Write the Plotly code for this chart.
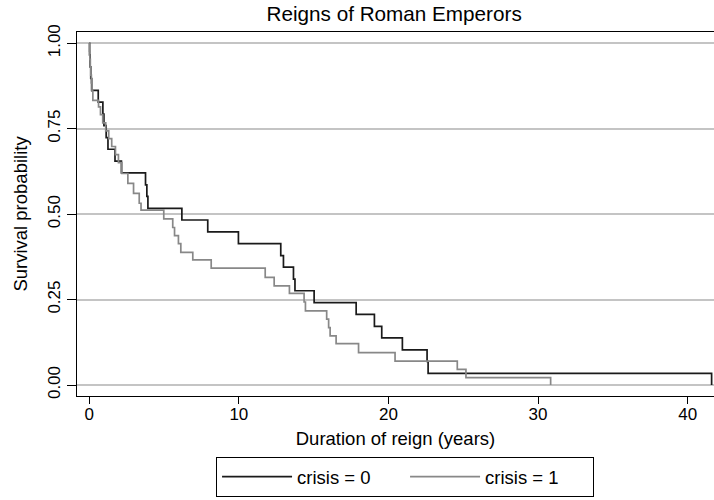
import plotly.graph_objects as go

# Kaplan-Meier event times (years) and survival after each drop
t_crisis0 = [0.02, 0.06, 0.10, 0.16, 0.60, 0.91, 0.98, 1.13, 1.25, 1.72, 2.15,
             3.76, 3.85, 3.92, 6.19, 7.92, 9.97, 12.8, 12.98, 13.65, 13.75,
             15.03, 17.84, 19.06, 19.55, 20.93, 22.58, 22.65, 41.6]
s_crisis0 = [0.966, 0.931, 0.897, 0.862, 0.828, 0.793, 0.759, 0.724, 0.690, 0.655, 0.621,
             0.586, 0.552, 0.517, 0.483, 0.448, 0.414, 0.379, 0.345, 0.310, 0.276,
             0.241, 0.207, 0.172, 0.138, 0.103, 0.069, 0.034, 0.0]

t_crisis1 = [0.02, 0.04, 0.07, 0.10, 0.14, 0.18, 0.24, 0.62, 0.75, 0.90, 1.10, 1.30,
             1.50, 1.75, 1.95, 2.18, 2.58, 2.96, 3.34, 3.46,
             4.98, 5.58, 5.70, 5.96, 6.12, 6.92, 8.15, 11.76, 12.36, 13.38,
             14.36, 14.45, 15.87, 16.0, 16.1, 16.5, 18.0, 20.44, 24.6, 25.18, 30.84]
s_crisis1 = [0.977, 0.953, 0.930, 0.907, 0.884, 0.860, 0.833, 0.814, 0.791, 0.767, 0.744, 0.721,
             0.698, 0.674, 0.651, 0.619, 0.590, 0.561, 0.532, 0.512,
             0.486, 0.461, 0.437, 0.414, 0.388, 0.366, 0.342, 0.315, 0.290, 0.268,
             0.243, 0.217, 0.193, 0.168, 0.144, 0.121, 0.095, 0.070, 0.046, 0.0215, 0.0]

x_ticks = [0, 10, 20, 30, 40]
y_ticks = [0.0, 0.25, 0.5, 0.75, 1.0]
y_tick_labels = ["0.00", "0.25", "0.50", "0.75", "1.00"]
series_names = ["crisis = 0", "crisis = 1"]


def steps(t, s):
    return [0.0] + list(t), [1.0] + list(s)


fig = go.Figure()
x0, y0 = steps(t_crisis0, s_crisis0)
x1, y1 = steps(t_crisis1, s_crisis1)
fig.add_trace(go.Scatter(x=x0, y=y0, mode="lines", line=dict(shape="hv", color="#1a1a1a", width=1.7),
                         name=series_names[0]))
fig.add_trace(go.Scatter(x=x1, y=y1, mode="lines", line=dict(shape="hv", color="#888888", width=1.7),
                         name=series_names[1]))

font = "Liberation Sans, Arial, Helvetica, sans-serif"
narrow = "Liberation Sans Narrow, Arial Narrow, Liberation Sans, sans-serif"
fig.update_layout(
    width=714, height=540,
    margin=dict(l=77, r=0, t=32, b=144),
    paper_bgcolor="white", plot_bgcolor="white",
    font=dict(family=font, size=18, color="black"),
    title=dict(text="Reigns of Roman Emperors", x=0.552, xanchor="center", xref="container",
               y=1 - 13.5 / 540, yanchor="middle", yref="container", font=dict(size=20.7)),
    xaxis=dict(range=[-0.82, 41.76], tickvals=x_ticks, ticks="outside", ticklen=7, tickwidth=1,
               tickcolor="black", showline=True, linecolor="black", linewidth=1.2, mirror=True,
               showgrid=False, zeroline=False, automargin=False, ticklabelstandoff=-5,
               tickfont=dict(size=17),
               title=dict(text="Duration of reign (years)", standoff=9, font=dict(size=18.5))),
    yaxis=dict(range=[-0.032, 1.033], tickvals=y_ticks, ticktext=y_tick_labels, tickangle=-90,
               ticks="outside", ticklen=9, tickwidth=1, tickcolor="black",
               showline=True, linecolor="black", linewidth=1.2,
               showgrid=True, gridcolor="#c4c4c4", gridwidth=1.5, zeroline=False, automargin=False,
               tickfont=dict(family=narrow, size=17),
               title=dict(text="Survival probability", standoff=12, font=dict(size=18.5))),
    legend=dict(orientation="h", x=0.515, xanchor="center", xref="paper", y=-0.2775, yanchor="bottom",
                yref="paper", bordercolor="black", borderwidth=1, bgcolor="white",
                itemwidth=70, entrywidth=103, font=dict(size=18.5), traceorder="normal"),
    showlegend=True,
)

fig.write_html("out.html", config={"displayModeBar": False},
               post_script="document.body.style.margin='0px';"
                           "document.body.style.overflow='hidden';"
                           "document.documentElement.style.overflow='hidden';")
